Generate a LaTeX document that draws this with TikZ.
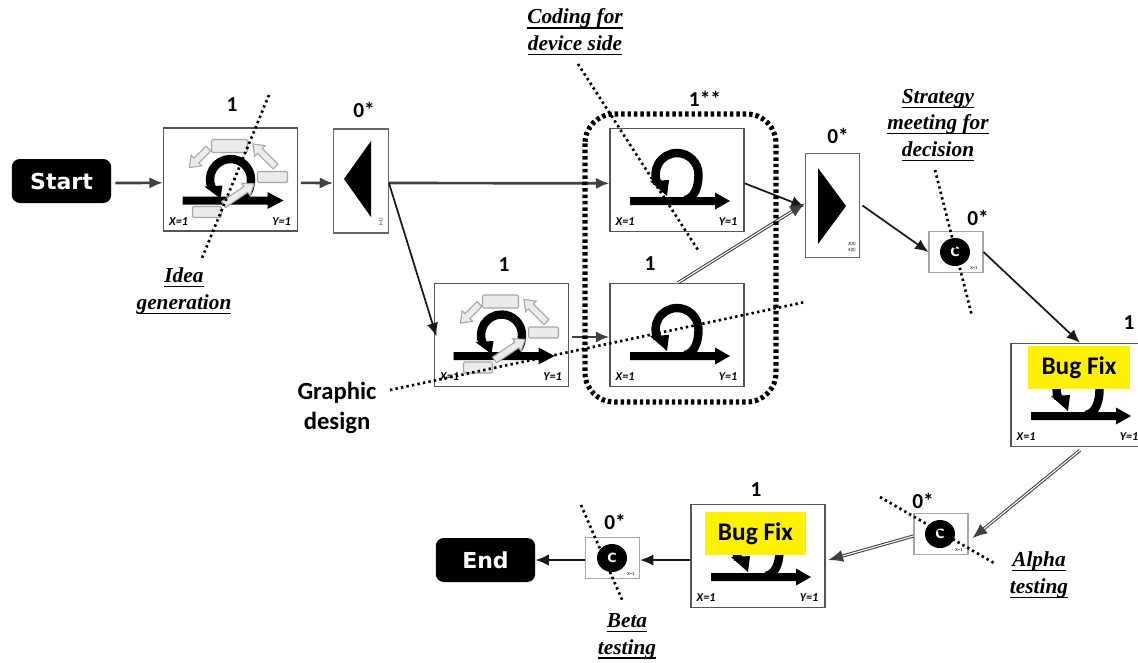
\documentclass[tikz,border=0pt]{standalone}
\usepackage{fontspec}
\setmainfont{Carlito}
\newfontfamily\serifbi{Liberation Serif}
\newfontfamily\startfont{DejaVu Sans}
\usetikzlibrary{arrows.meta,calc}
\definecolor{bordergrey}{gray}{0.33}
\definecolor{fatfill}{gray}{0.92}
\definecolor{fatedge}{gray}{0.65}
\newcommand{\fatarr}[4]{\path[fill=fatfill,draw=fatedge,line width=0.8pt,shift={(#1,#2)},rotate=#3] (0,-3.5) -- ({#4-10},-3.5) -- ({#4-10},-7.5) -- (#4,0) -- ({#4-10},7.5) -- ({#4-10},3.5) -- (0,3.5) -- cycle;}
\newcommand{\ulx}[1]{\setbox0\hbox{#1}\leavevmode\rlap{\vrule width \wd0 height -2.6pt depth 3.5pt}\box0 }
\tikzset{
  x=0.75pt,y=-0.75pt,
  pbox/.style 2 args={draw=bordergrey,line width=1.1pt,fill=white,inner sep=0pt,minimum width=#1*0.75pt,minimum height=#2*0.75pt},
  cbox/.style={draw=gray!70,line width=0.8pt,fill=white,inner sep=0pt,minimum width=40.5pt,minimum height=31pt},
  tribox/.style={draw=gray!80!black,line width=0.9pt,fill=white,inner sep=0pt,minimum width=41pt,minimum height=78pt},
  term/.style={fill=black,rounded corners=6pt,text=white,inner sep=0pt,minimum width=74.5pt,minimum height=33pt,font=\startfont\bfseries\fontsize{16.5pt}{18pt}\selectfont},
  num/.style={font=\bfseries\fontsize{16pt}{18pt}\selectfont,inner sep=0pt},
  capt/.style={font=\serifbi\bfseries\itshape\fontsize{16pt}{20pt}\selectfont,align=center,inner sep=0pt},
  xy/.style={font=\bfseries\itshape\fontsize{9pt}{10pt}\selectfont,inner sep=0pt},
  tinyl/.style={font=\fontsize{3.5pt}{4pt}\selectfont,inner sep=0pt},
  bug/.style={fill=yellow,inner sep=0pt,font=\bfseries\fontsize{19pt}{21pt}\selectfont},
  conn/.style={draw=black!90,line width=1.3pt,-{Latex[length=10pt,width=8.5pt]}},
  connfat/.style={draw=black!75,line width=2pt,-{Latex[length=10pt,width=8.5pt]}},
  conndbl/.style={draw=black!75,double=white,double distance=0.8pt,line width=0.8pt,-{Latex[length=11pt,width=9pt]}},
  dots/.style={line width=2pt,dash pattern=on 1.8pt off 2.4pt,draw=black},
  loopicon/.pic={
    \fill (-47,17) -- (38,17) -- (38,12.5) -- (53,21) -- (38,29.5) -- (38,25) -- (-47,25) -- cycle;
    \draw[line width=6.3pt] (8,20) .. controls (18,18) and (21.5,6) .. (21.5,-5.5) arc[start angle=0,end angle=-205,radius=21.5];
    \fill (-27,1) -- (-8,0) -- (-10,16) -- cycle;
    \node[xy] (-xl) at (-52,42) {X=1};
    \node[xy] (-yl) at (51,42) {Y=1};
  },
  ideaicon/.pic={
    \fill (-48,17) -- (37,17) -- (37,12.5) -- (53,21) -- (37,29.5) -- (37,25) -- (-48,25) -- cycle;
    \draw[line width=6.3pt] (10,20) .. controls (17,17) and (20.5,8) .. (20.5,0) arc[start angle=0,end angle=-205,radius=20.5];
    \fill (-26,7) -- (-8,6) -- (-10,19) -- cycle;
    \path[fill=fatfill,draw=fatedge,line width=0.8pt,rounded corners=1pt] (-19,-40) rectangle (17,-27);
    \path[fill=fatfill,draw=fatedge,line width=0.8pt,rounded corners=1pt] (27,-8) rectangle (57,3);
    \path[fill=fatfill,draw=fatedge,line width=0.8pt,rounded corners=1pt] (-38,27) rectangle (-9,38);
    \fatarr{-22}{-31}{225}{27}
    \fatarr{45}{-13}{135}{32}
    \fatarr{-7}{25}{34}{37}
    \node[xy] (-xl) at (-52,42) {X=1};
    \node[xy] (-yl) at (51,42) {Y=1};
  }
}
\begin{document}
\begin{tikzpicture}
\useasboundingbox (0,0) rectangle (1138,662);
\clip (0,0) rectangle (1138,662);
% terminals
\node[term] (start) at (61.5,181) {Start};
\node[term] (endn) at (485.5,560) {End};
% process boxes
\node[pbox={134}{103}] (idea) at (230.5,179.5) {};
\pic (ideaI) at (230.5,179.5) {ideaicon};
\node[pbox={134}{103}] (code) at (677,180) {};
\pic (codeI) at (677,180) {loopicon};
\node[pbox={134}{103}] (gfx) at (677,335) {};
\pic (gfxI) at (677,335) {loopicon};
\node[pbox={134}{103}] (idea2) at (501.5,335) {};
\pic (idea2I) at (501.5,335) {ideaicon};
\node[pbox={134}{103}] (fix1) at (1078,395) {};
\pic (fix1I) at (1078,395) {loopicon};
\node[pbox={134}{103}] (fix2) at (758,556) {};
\pic (fix2I) at (758,556) {loopicon};
\node[bug,minimum width=77pt,minimum height=32.5pt] (bug1) at (1079,367.5) {Bug Fix};
\node[bug,minimum width=76pt,minimum height=32.5pt] (bug2) at (755.5,533.5) {Bug Fix};
% merge / decision boxes
\node[tribox] (tria) at (361,181) {};
\fill (344,179) -- (371,141) -- (371,217) -- cycle;
\node[tinyl,rotate=90] (triaL) at (381,222) {[=1]};
\node[tribox] (trib) at (832.5,205.5) {};
\fill (818,168) -- (846,206) -- (818,244) -- cycle;
\node[tinyl,align=center] (tribL) at (852,247) {Z(X)\\4(X)};
% C boxes
\node[cbox] (c1) at (956,252) {};
\node[cbox] (c2) at (941,534) {};
\node[cbox] (c3) at (612.5,558) {};
\foreach \n/\xx/\yy in {c1/955/252,c2/940/534,c3/612/558}{
  \fill (\xx,\yy) ellipse (15 and 14);
  \node[text=white,font=\startfont\bfseries\fontsize{9.5pt}{10pt}\selectfont,inner sep=0pt] (\n C) at (\xx,\yy) {C};
  \node[tinyl] (\n X) at (\xx+19,\yy+16) {X=1};
}
% connectors
\draw[connfat] ([xshift=3pt,yshift=-1.5pt]start.east) -- ([yshift=-2.5pt]idea.west);
\draw[connfat] ([xshift=2pt,yshift=-2.5pt]idea.east) -- ([yshift=-1.5pt]tria.west);
\draw[connfat] ([yshift=-1.5pt]tria.east) -- ([yshift=-2.5pt]code.west);
\draw[conn] ([yshift=-1.5pt]tria.east) -- ([xshift=2pt,yshift=-1pt]idea2.west);
\draw[connfat] ([xshift=2pt,yshift=-1.5pt]idea2.east) -- ([yshift=-1.5pt]gfx.west);
\draw[conn] ([yshift=-2.5pt]code.east) -- ([yshift=-1pt]trib.west);
\draw[conndbl] ($(gfx.north)+(1,0)$) -- ([yshift=1.5pt]trib.west);
\draw[conn] ([xshift=1.5pt]trib.east) -- (c1.west);
\draw[conn] (c1.east) -- ($(fix1.north)+(2,0)$);
\draw[conndbl] ($(fix1.south)+(2,3)$) -- ([xshift=3pt,yshift=-3pt]c2.east);
\draw[conndbl] ([yshift=-1.5pt]c2.west) -- ([xshift=2pt,yshift=-3pt]fix2.east);
\draw[conn] ([yshift=-3pt]fix2.west) -- ([yshift=-1.5pt]c3.east);
\draw[conn] ([yshift=-1.5pt]c3.west) -- (endn.east);
% dotted group and strokes
\draw[line width=3.8pt,dash pattern=on 2.6pt off 2.2pt,rounded corners=22pt,draw=black] (585,114) rectangle (776,402);
\coordinate (d1a) at (269,95); \coordinate (d1b) at (202,258);
\coordinate (d2a) at (578,64); \coordinate (d2b) at (698,250);
\coordinate (d3a) at (390,390); \coordinate (d3b) at (805,302);
\coordinate (d4a) at (935,170); \coordinate (d4b) at (972,316);
\coordinate (d5a) at (880,497); \coordinate (d5b) at (994,563);
\coordinate (d6a) at (581,505); \coordinate (d6b) at (623,602);
\draw[dots] (d1a) -- (d1b);
\draw[dots] (d2a) -- (d2b);
\draw[dots] (d3a) -- (d3b);
\draw[dots] (d4a) -- (d4b);
\draw[dots] (d5a) -- (d5b);
\draw[dots] (d6a) -- (d6b);
% numbers
\node[num] (n1) at (232,105) {1};
\node[num] (n2) at (364,110) {0*};
\node[num] (n3) at (705,99) {1**};
\node[num] (n4) at (838,136) {0*};
\node[num] (n5) at (650,264) {1};
\node[num] (n6) at (504,265) {1};
\node[num] (n7) at (978,218) {0*};
\node[num] (n8) at (1129,323) {1};
\node[num] (n9) at (756,490) {1};
\node[num] (n10) at (923,501) {0*};
\node[num] (n11) at (615,522) {0*};
% captions
\node[capt] (capa) at (575,32) {\ulx{Coding for}\\\ulx{device side}};
\node[capt] (capb) at (938,125) {\ulx{Strategy}\\\ulx{meeting for}\\\ulx{decision}};
\node[capt] (capc) at (184,291) {\ulx{Idea}\\\ulx{generation}};
\node[capt] (capd) at (1039,575) {\ulx{Alpha}\\\ulx{testing}};
\node[capt] (cape) at (627,636) {\ulx{Beta}\\\ulx{testing}};
\node[font=\bfseries\fontsize{18.5pt}{23pt}\selectfont,align=center,inner sep=0pt] (capf) at (337,408) {Graphic\\design};
\end{tikzpicture}
\end{document}
